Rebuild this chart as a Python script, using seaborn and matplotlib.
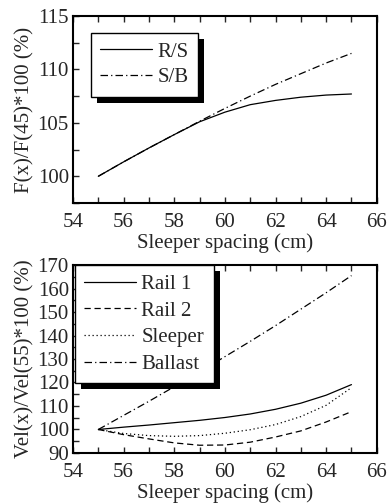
import numpy as np
import pandas as pd
import matplotlib
matplotlib.use("Agg")
import matplotlib.pyplot as plt
import seaborn as sns
from matplotlib.patches import Rectangle
from matplotlib.ticker import MultipleLocator

# sleeper spacing (cm)
spacing = [55, 56, 57, 58, 59, 60, 61, 62, 63, 64, 65]

# top panel: force ratio F(x)/F(45)*100
rs = [100, 101.35, 102.65, 103.9, 105.1, 106.0, 106.7, 107.1, 107.4, 107.6, 107.7]
sb = [100, 101.35, 102.65, 103.9, 105.15, 106.35, 107.5, 108.6, 109.6, 110.6, 111.5]

# bottom panel: velocity ratio Vel(x)/Vel(55)*100
rail1 = [100, 101.0, 101.9, 102.9, 103.9, 105.1, 106.6, 108.6, 111.2, 114.6, 119.1]
rail2 = [100, 97.8, 96.0, 94.3, 93.3, 93.4, 94.6, 96.8, 99.4, 103.2, 107.6]
sleeper = [100, 98.3, 97.4, 97.1, 97.4, 98.4, 99.9, 102.1, 105.5, 110.3, 117.8]
ballast = [100, 106.0, 112.0, 118.2, 124.5, 131.0, 137.5, 144.2, 151.2, 158.2, 165.5]

top_df = pd.concat([
    pd.DataFrame({"x": spacing, "y": rs, "s": "R/S"}),
    pd.DataFrame({"x": spacing, "y": sb, "s": "S/B"}),
])
bot_df = pd.concat([
    pd.DataFrame({"x": spacing, "y": rail1, "s": "Rail 1"}),
    pd.DataFrame({"x": spacing, "y": rail2, "s": "Rail 2"}),
    pd.DataFrame({"x": spacing, "y": sleeper, "s": "Sleeper"}),
    pd.DataFrame({"x": spacing, "y": ballast, "s": "Ballast"}),
])

sns.set_style("white")
plt.rcParams["font.family"] = ["Liberation Serif", "DejaVu Serif"]

fig = plt.figure(figsize=(3.87, 5.04), dpi=100)
ax1 = fig.add_axes([0.1886, 0.5972, 0.785, 0.3711])
ax2 = fig.add_axes([0.1886, 0.1012, 0.785, 0.3730])

dd = (6, 2.5, 1, 2.5)
sns.lineplot(data=top_df, x="x", y="y", style="s", color="black", lw=0.9,
             dashes={"R/S": "", "S/B": dd}, ax=ax1, legend=True)
sns.lineplot(data=bot_df, x="x", y="y", style="s", color="black", lw=0.9,
             dashes={"Rail 1": "", "Rail 2": (5, 3), "Sleeper": (1, 2.2),
                     "Ballast": dd}, ax=ax2, legend=True)

fs = 15
for ax, ylim, ymaj, ymin, ylab in [
        (ax1, (97.5, 115), 5, 2.5, "F(x)/F(45)*100 (%)"),
        (ax2, (90, 170), 10, 5, "Vel(x)/Vel(55)*100 (%)")]:
    ax.set_xlim(54, 66)
    ax.set_ylim(*ylim)
    ax.xaxis.set_major_locator(MultipleLocator(2))
    ax.xaxis.set_minor_locator(MultipleLocator(1))
    ax.yaxis.set_major_locator(MultipleLocator(ymaj))
    ax.yaxis.set_minor_locator(MultipleLocator(ymin))
    ax.tick_params(which="both", direction="in", top=True, right=False,
                   bottom=True, left=True, length=4, width=1, labelsize=fs)
    ax.tick_params(axis="x", pad=7)
    ax.tick_params(axis="y", pad=3)
    for sp in ax.spines.values():
        sp.set_linewidth(1.5)
        sp.set_color("black")
    ax.set_xlabel("Sleeper spacing (cm)", fontsize=fs, labelpad=1)
    ax.set_ylabel(ylab, fontsize=fs, labelpad=2)

leg_specs = [(ax1, (0.059, 0.911), 0.3), (ax2, (0.006, 1.0), 0.34)]
legs = []
for ax, anchor, lsp in leg_specs:
    h, l = ax.get_legend_handles_labels()
    leg = ax.legend(h, l, loc="upper left", bbox_to_anchor=anchor,
                    borderaxespad=0, fancybox=False, frameon=True,
                    edgecolor="black", fontsize=fs, handlelength=2.5,
                    handletextpad=0.25, labelspacing=lsp, borderpad=0.45,
                    framealpha=1)
    leg.get_frame().set_linewidth(1.0)
    legs.append((ax, leg))

# solid black drop shadow behind each legend box
fig.canvas.draw()
for ax, leg in legs:
    bb = leg.get_frame().get_window_extent()
    inv = ax.transAxes.inverted()
    (x0, y0), (x1, y1) = inv.transform([[bb.x0 + 6, bb.y0 - 6], [bb.x1 + 6, bb.y1 - 6]])
    ax.add_patch(Rectangle((x0, y0), x1 - x0, y1 - y0, transform=ax.transAxes,
                           facecolor="black", edgecolor="none", zorder=4.5,
                           clip_on=False))

fig.savefig("out.png", dpi=100)
